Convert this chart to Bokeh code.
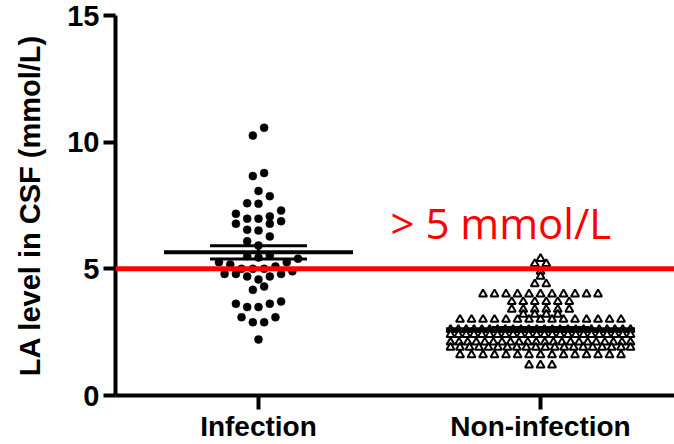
import numpy as np
from bokeh.plotting import figure
from bokeh.models import Range1d, FixedTicker, Span, Label
from bokeh.embed import file_html
from bokeh.resources import INLINE

# ---- data -------------------------------------------------------------
categories = ["Infection", "Non-infection"]
positions = [1, 2]

# CSF lactate (mmol/L), infection group
infection = [
    10.57, 10.26, 8.78, 8.66, 8.07, 7.87, 7.59, 7.57, 7.30, 7.17,
    7.07, 6.98, 6.98, 6.88, 6.78, 6.78, 6.54, 6.51, 6.28, 6.09,
    5.92, 5.53, 5.50, 5.45, 5.40, 5.26, 5.26, 5.17, 5.09, 5.00,
    5.00, 5.00, 4.90, 4.80, 4.80, 4.80, 4.70, 4.70, 4.58, 4.30,
    4.17, 3.71, 3.62, 3.62, 3.49, 3.49, 3.09, 3.09, 2.89, 2.89,
    2.21,
]

# CSF lactate (mmol/L), non-infection group
non_infection = [
    5.4,
    5.2, 5.2,
    4.9,
    4.7,
    4.4, 4.4,
    4.0, 4.0, 4.0, 4.0, 4.0, 4.0, 4.0, 4.0, 4.0, 4.0, 4.0,
    3.7, 3.7, 3.7, 3.7, 3.7, 3.7,
    3.4, 3.4, 3.4, 3.4, 3.4, 3.4,
    3.2, 3.2, 3.2, 3.2,
    3.0, 3.0, 3.0, 3.0, 3.0, 3.0, 3.0, 3.0, 3.0, 3.0, 3.0, 3.0, 3.0, 3.0, 3.0,
    2.6, 2.6, 2.6, 2.6, 2.6, 2.6, 2.6, 2.6, 2.6, 2.6, 2.6, 2.6,
    2.6, 2.6, 2.6, 2.6, 2.6, 2.6, 2.6, 2.6, 2.6, 2.6, 2.6, 2.6,
    2.4, 2.4, 2.4, 2.4, 2.4, 2.4, 2.4, 2.4, 2.4, 2.4, 2.4, 2.4,
    2.4, 2.4, 2.4, 2.4, 2.4, 2.4, 2.4, 2.4, 2.4, 2.4, 2.4, 2.4,
    2.1, 2.1, 2.1, 2.1, 2.1, 2.1, 2.1, 2.1, 2.1, 2.1, 2.1,
    2.1, 2.1, 2.1, 2.1, 2.1, 2.1, 2.1, 2.1, 2.1, 2.1, 2.1,
    1.9, 1.9, 1.9, 1.9, 1.9, 1.9, 1.9, 1.9, 1.9, 1.9,
    1.9, 1.9, 1.9, 1.9, 1.9, 1.9, 1.9, 1.9, 1.9, 1.9,
    1.6, 1.6, 1.6, 1.6, 1.6, 1.6, 1.6, 1.6, 1.6, 1.6, 1.6, 1.6, 1.6, 1.6, 1.6,
    1.2, 1.2, 1.2,
]

threshold = 5.0
threshold_label = "> 5 mmol/L"
y_ticks = [0, 5, 10, 15]

# ---- layout -----------------------------------------------------------
W, H = 674, 444
LEFT, TOP, BOTTOM = 115, 15, 49
x_lo, x_hi = 0.493, 2.475
y_lo, y_hi = 0, 15
px_x = (W - LEFT) / (x_hi - x_lo)


def swarm_x(values, center, row_gap, step_px, max_px):
    """Row-based scatter layout: values within row_gap share a row and are
    spread sideways around the category centre (lowest values in the middle)."""
    values = np.asarray(values, dtype=float)
    order = np.argsort(values, kind="stable")
    rows, cur, start = [], [], None
    for i in order:
        v = values[i]
        if cur and v - start > row_gap + 1e-9:
            rows.append(cur)
            cur = []
        if not cur:
            start = v
        cur.append(i)
    if cur:
        rows.append(cur)
    xs = np.full(len(values), float(center))
    for row in rows:
        n = len(row)
        step = min(step_px, max_px / max(n - 1, 1))
        slots = (np.arange(n) - (n - 1) / 2) * step
        slot_order = np.argsort(np.abs(slots), kind="stable")
        for k, i in zip(slot_order, row):
            xs[i] = center + slots[k] / px_x
    return xs


p = figure(
    width=W, height=H,
    x_range=Range1d(x_lo, x_hi), y_range=Range1d(y_lo, y_hi),
    output_backend="svg", toolbar_location=None,
    min_border_left=LEFT, min_border_top=TOP,
    min_border_right=0, min_border_bottom=BOTTOM,
)
p.outline_line_color = None
p.grid.visible = False
p.background_fill_color = "white"
p.border_fill_color = "white"

for ax in (p.xaxis[0], p.yaxis[0]):
    ax.axis_line_width = 4
    ax.axis_line_color = "black"
    ax.major_tick_line_width = 4
    ax.major_tick_line_color = "black"
    ax.major_tick_in = 0
    ax.minor_tick_line_color = None
    ax.major_label_text_font = "Liberation Sans"
    ax.major_label_text_font_style = "bold"
    ax.major_label_text_color = "black"

yax = p.yaxis[0]
yax.ticker = FixedTicker(ticks=y_ticks)
yax.major_tick_out = 12
yax.major_label_standoff = 4
yax.major_label_text_font_size = "29px"
yax.axis_label = "LA level in CSF (mmol/L)"
yax.axis_label_text_font = "Liberation Sans"
yax.axis_label_text_font_style = "bold"
yax.axis_label_text_font_size = "29px"
yax.axis_label_text_color = "black"
yax.axis_label_standoff = 18

xax = p.xaxis[0]
xax.ticker = FixedTicker(ticks=positions)
xax.major_label_overrides = {pos: name for pos, name in zip(positions, categories)}
xax.major_tick_out = 14
xax.major_label_standoff = 1
xax.major_label_text_font_size = "28px"

# ---- points -----------------------------------------------------------
x_inf = swarm_x(infection, positions[0], 0.4, 11.3, 178)
p.scatter(x_inf, infection, marker="circle", size=8,
          fill_color="black", line_color="black", line_width=0.5)

x_non = swarm_x(non_infection, positions[1], 0.1, 11.5, 180)
p.scatter(x_non, non_infection, marker="triangle", size=8,
          fill_color="white", line_color="black", line_width=2)

# ---- mean +/- SEM -----------------------------------------------------
MEAN_HALF, CAP_HALF = 0.335, 0.172
for pos, vals in zip(positions, [infection, non_infection]):
    arr = np.asarray(vals, dtype=float)
    m = arr.mean()
    sem = arr.std(ddof=1) / np.sqrt(len(arr))
    p.segment(x0=[pos - MEAN_HALF], y0=[m], x1=[pos + MEAN_HALF], y1=[m],
              line_width=4, line_color="black")
    p.segment(x0=[pos - CAP_HALF] * 2, y0=[m - sem, m + sem],
              x1=[pos + CAP_HALF] * 2, y1=[m - sem, m + sem],
              line_width=3, line_color="black")
    p.segment(x0=[pos], y0=[m - sem], x1=[pos], y1=[m + sem],
              line_width=3, line_color="black")

# ---- cut-off ----------------------------------------------------------
p.add_layout(Span(location=threshold, dimension="width",
                  line_color="#ff0000", line_width=5))
p.add_layout(Label(x=1.468, y=6.83, text=threshold_label,
                   text_color="#ff0000", text_font="Open Sans",
                   text_font_size="42px", text_baseline="alphabetic"))

open("out.html", "w").write(file_html(p, INLINE))
